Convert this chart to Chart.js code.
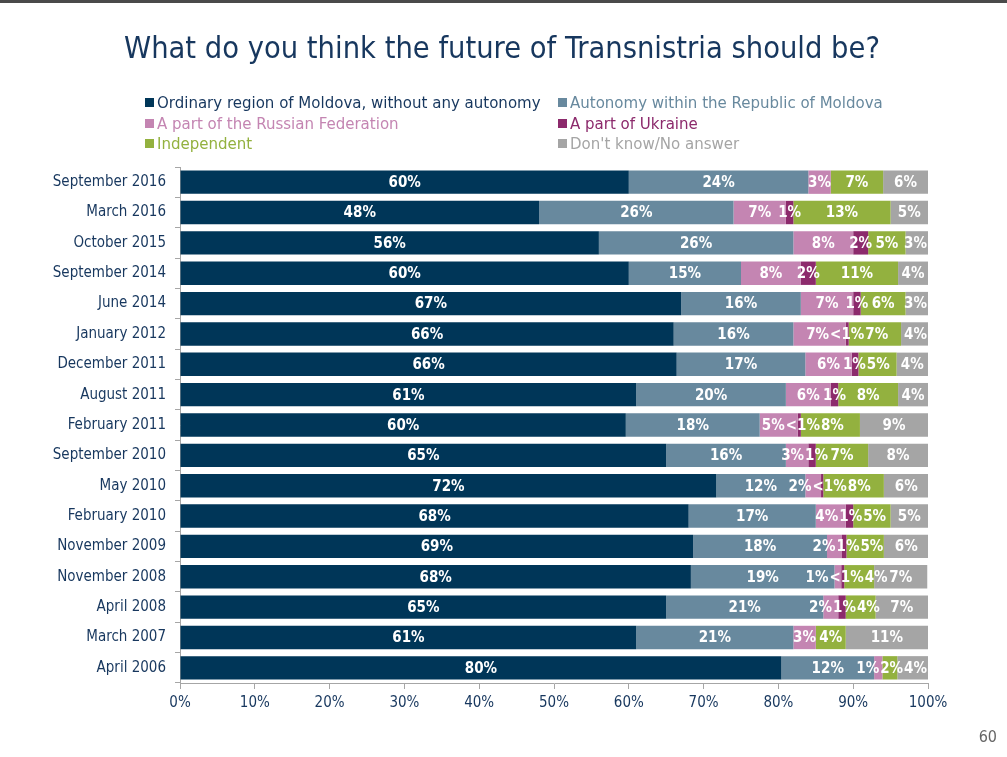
<!DOCTYPE html>
<html>
<head>
<meta charset="utf-8">
<script src="https://cdn.jsdelivr.net/npm/chart.js@4/dist/chart.umd.min.js"></script>
<style>
  body { margin: 0; background: #fff; font-family: "DejaVu Sans Condensed", "Liberation Sans", sans-serif; }
  #wrap { position: relative; width: 1007px; height: 757px; overflow: hidden; }
  #topline { position: absolute; left: 0; top: 0; width: 1007px; height: 3px; background: #4a4a4a; }
  #title { position: absolute; left: 0; top: 29px; width: 1004px; text-align: center; font-size: 30.5px; line-height: 37px; color: #17375e; }
  #legend { position: absolute; left: 145px; top: 92px; width: 800px; }
  .item { position: absolute; font-size: 16.7px; white-space: nowrap; line-height: 20px; }
  .item span.box { display: inline-block; width: 9px; height: 9px; margin-right: 3px; vertical-align: 1px; }
  #page { position: absolute; right: 10px; top: 727px; font-size: 16px; color: #666; }
</style>
</head>
<body>
<div id="wrap">
  <canvas id="myChart1" width="1007" height="757"></canvas>
  <div id="topline"></div>
  <div id="title">What do you think the future of Transnistria should be?</div>
  <div id="legend"></div>
  <div id="page">60</div>
</div>
<script>
const surveys = ['September 2016', 'March 2016', 'October 2015', 'September 2014', 'June 2014',
  'January 2012', 'December 2011', 'August 2011', 'February 2011', 'September 2010', 'May 2010',
  'February 2010', 'November 2009', 'November 2008', 'April 2008', 'March 2007', 'April 2006'];

const ordinary    = [60, 48, 56, 60, 67, 66, 66.4, 61, 59.6, 65, 71.7, 68, 68.6, 68.3, 65, 61, 80.4];
const autonomy    = [24, 26, 26, 15, 16, 16, 17.2, 20, 17.9, 16, 11.9, 17, 17.9, 19.2, 21, 21, 12.4];
const russia      = [3, 7, 8, 8, 7, 7, 6.2, 6, 5.1, 3, 2.1, 4, 2, 0.9, 2, 3, 1.1];
const ukraine     = [0, 1, 2, 2, 1, 0.4, 0.9, 1, 0.4, 1, 0.3, 1, 0.6, 0.4, 1, 0, 0];
const independent = [7, 13, 5, 11, 6, 7, 5.1, 8, 7.9, 7, 8.1, 5, 5, 4, 4, 4, 2];
const dontKnow    = [6, 5, 3, 4, 3, 4, 4.2, 4, 9.1, 8, 6, 5, 6, 7.1, 7, 11, 4.1];

const seriesNames = ['Ordinary region of Moldova, without any autonomy', 'Autonomy within the Republic of Moldova',
  'A part of the Russian Federation', 'A part of Ukraine', 'Independent', "Don't know/No answer"];
const seriesColors = ['#003658', '#68899e', '#c485b2', '#8c2a6c', '#93b13f', '#a5a5a5'];
const xTicks = [0, 10, 20, 30, 40, 50, 60, 70, 80, 90, 100];

const textBlue = '#17375e';
const fontName = '"DejaVu Sans Condensed", "Liberation Sans", sans-serif';
const allSeries = [ordinary, autonomy, russia, ukraine, independent, dontKnow];

// legend as html, two columns
const legendPos = [[0, 0], [413, 0], [0, 21], [413, 21], [0, 41], [413, 41]];
const legendDiv = document.getElementById('legend');
seriesNames.forEach((name, i) => {
  const d = document.createElement('div');
  d.className = 'item';
  d.style.left = legendPos[i][0] + 'px';
  d.style.top = legendPos[i][1] + 'px';
  d.style.color = i == 0 ? textBlue : seriesColors[i];
  d.innerHTML = '<span class="box" style="background:' + seriesColors[i] + '"></span>' + name;
  legendDiv.appendChild(d);
});

// white % labels inside the segments, pushed apart when they collide
const barLabels = {
  id: 'barLabels',
  afterDatasetsDraw(chart) {
    const ctx = chart.ctx;
    ctx.save();
    ctx.font = 'bold 15px ' + fontName;
    ctx.fillStyle = '#fff';
    ctx.textAlign = 'center';
    ctx.textBaseline = 'middle';
    chart.data.labels.forEach((lab, i) => {
      const items = [];
      chart.data.datasets.forEach((ds, di) => {
        const v = ds.data[i];
        if (!v) return;
        const bar = chart.getDatasetMeta(di).data[i];
        const txt = v < 0.5 ? '<1%' : Math.round(v) + '%';
        items.push({ txt, x: (bar.x + bar.base) / 2, y: bar.y, w: ctx.measureText(txt).width });
      });
      for (let k = 0; k < 30; k++) {
        for (let j = 0; j < items.length - 1; j++) {
          const a = items[j], b = items[j + 1];
          const ov = (a.x + a.w / 2) - (b.x - b.w / 2) + 1;
          if (ov > 0) { a.x -= ov / 2; b.x += ov / 2; }
        }
        const last = items[items.length - 1];
        const lim = chart.chartArea.right - last.w / 2 - 1;
        if (last.x > lim) last.x = lim;
      }
      items.forEach(it => ctx.fillText(it.txt, it.x, it.y + 1));
    });
    ctx.restore();
  }
};

const ctx = document.getElementById('myChart1').getContext('2d');
const myChart = new Chart(ctx, {
  type: 'bar',
  data: {
    labels: surveys,
    datasets: allSeries.map((arr, i) => ({
      label: seriesNames[i],
      data: arr,
      backgroundColor: seriesColors[i],
      borderWidth: 0,
      barPercentage: 0.77,
      categoryPercentage: 1
    }))
  },
  options: {
    responsive: false,
    animation: false,
    indexAxis: 'y',
    layout: { padding: { left: 0, right: 79, top: 167, bottom: 0 } },
    plugins: {
      legend: { display: false },
      tooltip: { enabled: false },
      title: { display: false }
    },
    scales: {
      x: {
        stacked: true,
        min: 0,
        max: 100,
        afterBuildTicks(scale) { scale.ticks = xTicks.map(v => ({ value: v })); },
        afterFit(scale) { scale.height = 74; },
        border: { color: '#a6a6a6', width: 1 },
        grid: { drawOnChartArea: false, tickLength: 6, color: '#a6a6a6' },
        ticks: {
          color: textBlue,
          padding: 5,
          font: { family: fontName, size: 15 },
          callback: v => v + '%'
        }
      },
      y: {
        stacked: true,
        afterFit(scale) { scale.width = 180; },
        border: { color: '#a6a6a6', width: 1 },
        grid: { drawOnChartArea: false, tickLength: 5, color: '#a6a6a6', offset: true },
        ticks: {
          color: textBlue,
          padding: 9,
          font: { family: fontName, size: 15 }
        }
      }
    }
  },
  plugins: [barLabels]
});
</script>
</body>
</html>
